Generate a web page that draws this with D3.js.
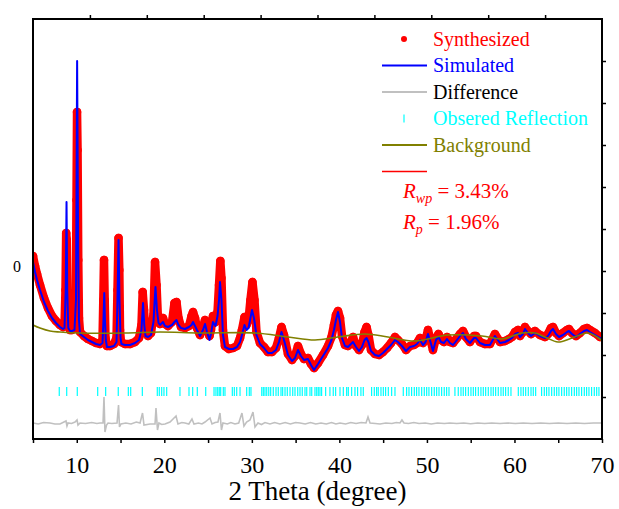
<!DOCTYPE html>
<html>
<head>
<meta charset="utf-8">
<script src="https://cdn.jsdelivr.net/npm/d3@7/dist/d3.min.js"></script>
<style>
  body { margin: 0; background: #fff; }
</style>
</head>
<body>
<svg id="chart" width="619" height="509"></svg>
<script>
const serif = "'Liberation Serif', 'Times New Roman', serif";

// 2 theta (deg), intensity (a.u.)
const observed = [
  [5.00,100],[5.23,0],[5.46,-80],[5.80,-190],[6.26,-320],[6.71,-420],[7.17,-500],[7.63,-550],
  [8.08,-590],[8.43,-610],[8.60,-590],[8.71,-240],[8.79,330],[8.86,260],[8.94,-340],[9.06,-600],
  [9.23,-640],[9.45,-640],[9.74,-620],[9.89,-340],[9.97,660],[10.03,1540],[10.09,1160],[10.17,60],
  [10.25,-520],[10.37,-660],[10.83,-700],[11.28,-730],[11.74,-750],[12.20,-770],[12.65,-780],
  [12.94,-740],[13.03,-340],[13.11,60],[13.19,-340],[13.28,-720],[13.45,-800],[13.80,-800],
  [14.25,-780],[14.54,-720],[14.65,-240],[14.77,280],[14.86,-40],[14.94,-640],[15.05,-760],
  [15.51,-780],[16.08,-780],[16.65,-760],[17.11,-720],[17.39,-590],[17.53,-260],[17.68,-440],
  [17.85,-670],[18.14,-700],[18.48,-670],[18.76,-490],[18.94,40],[19.11,-190],[19.28,-540],
  [19.51,-580],[19.85,-520],[20.08,-580],[20.42,-600],[20.88,-560],[21.16,-370],[21.39,-360],
  [21.62,-520],[21.91,-610],[22.36,-620],[22.82,-600],[23.11,-500],[23.28,-460],[23.51,-520],
  [23.73,-620],[24.08,-690],[24.42,-610],[24.65,-540],[24.88,-620],[25.16,-700],[25.33,-640],
  [25.56,-500],[25.85,-560],[26.08,-460],[26.25,-190],[26.40,50],[26.53,-120],[26.70,-640],
  [26.93,-800],[27.39,-830],[27.85,-820],[28.30,-800],[28.65,-720],[28.87,-640],[29.16,-510],
  [29.39,-590],[29.62,-540],[29.84,-340],[30.07,-160],[30.30,-340],[30.53,-660],[30.93,-770],
  [31.39,-810],[31.84,-860],[32.30,-860],[32.76,-820],[33.10,-720],[33.39,-610],[33.67,-690],
  [34.13,-880],[34.59,-940],[34.93,-900],[35.27,-800],[35.61,-880],[35.96,-930],[36.41,-920],
  [36.76,-980],[37.10,-1020],[37.56,-970],[38.13,-890],[38.70,-800],[39.10,-710],[39.38,-590],
  [39.61,-490],[39.84,-450],[40.07,-520],[40.30,-700],[40.64,-790],[40.98,-800],[41.21,-780],
  [41.56,-710],[41.90,-800],[42.24,-840],[42.58,-790],[42.87,-660],[43.10,-610],[43.32,-690],
  [43.61,-840],[44.07,-880],[44.52,-890],[44.98,-860],[45.44,-820],[45.90,-770],[46.35,-710],
  [46.69,-740],[47.15,-780],[47.61,-840],[48.07,-800],[48.52,-790],[48.87,-770],[49.21,-720],
  [49.55,-770],[49.84,-740],[50.12,-640],[50.41,-740],[50.69,-840],[51.04,-720],[51.32,-680],
  [51.61,-740],[51.95,-760],[52.29,-710],[52.63,-760],[52.98,-770],[53.43,-720],[53.78,-680],
  [54.12,-650],[54.46,-710],[54.92,-760],[55.38,-700],[55.61,-700],[56.06,-760],[56.63,-780],
  [57.20,-780],[57.77,-680],[58.35,-760],[58.92,-750],[59.37,-730],[59.72,-710],[60.06,-660],
  [60.40,-640],[60.63,-700],[60.97,-660],[61.20,-610],[61.54,-650],[61.89,-680],[62.34,-650],
  [62.91,-690],[63.49,-710],[63.83,-680],[64.17,-620],[64.40,-610],[64.74,-670],[65.09,-700],
  [65.54,-670],[66.00,-640],[66.23,-630],[66.57,-670],[67.03,-700],[67.48,-670],[67.94,-630],
  [68.29,-620],[68.62,-640],[69.20,-670],[69.77,-710],[70.00,-710]
];

const calculated = [
  [5.00,40],[5.23,-60],[5.46,-140],[5.80,-240],[6.26,-360],[6.71,-450],[7.17,-520],[7.63,-570],
  [8.08,-610],[8.43,-630],[8.60,-620],[8.74,-240],[8.83,640],[8.91,-240],[9.03,-620],[9.23,-650],
  [9.45,-650],[9.74,-640],[9.91,-340],[10.04,2050],[10.16,160],[10.25,-540],[10.37,-680],
  [10.83,-710],[11.28,-740],[11.74,-760],[12.20,-780],[12.65,-790],[12.94,-770],[13.05,-540],
  [13.14,-270],[13.22,-540],[13.32,-740],[13.45,-810],[13.80,-810],[14.25,-800],[14.54,-760],
  [14.65,-340],[14.77,260],[14.88,-340],[15.00,-720],[15.11,-780],[15.51,-790],[16.08,-790],
  [16.65,-770],[17.11,-740],[17.39,-640],[17.57,-370],[17.71,-590],[17.85,-700],[18.14,-710],
  [18.48,-690],[18.76,-560],[18.99,-210],[19.16,-440],[19.34,-570],[19.51,-590],[19.85,-560],
  [20.08,-600],[20.42,-610],[20.88,-590],[21.16,-560],[21.39,-540],[21.62,-590],[21.91,-620],
  [22.36,-630],[22.82,-610],[23.11,-590],[23.28,-560],[23.51,-600],[23.73,-640],[24.08,-700],
  [24.42,-640],[24.65,-580],[24.88,-660],[25.16,-740],[25.33,-680],[25.56,-560],[25.85,-600],
  [26.08,-500],[26.25,-340],[26.36,-160],[26.53,-340],[26.70,-690],[26.93,-810],[27.39,-830],
  [27.85,-830],[28.30,-810],[28.65,-760],[28.87,-690],[29.16,-590],[29.39,-640],[29.62,-620],
  [29.84,-520],[30.02,-440],[30.24,-520],[30.53,-690],[30.93,-780],[31.39,-820],[31.84,-870],
  [32.30,-870],[32.76,-840],[33.10,-760],[33.39,-660],[33.67,-740],[34.13,-890],[34.59,-950],
  [34.93,-920],[35.27,-840],[35.61,-900],[35.96,-940],[36.41,-930],[36.76,-990],[37.10,-1040],
  [37.56,-980],[38.13,-900],[38.70,-820],[39.10,-740],[39.38,-640],[39.61,-540],[39.84,-460],
  [40.07,-560],[40.30,-720],[40.64,-800],[40.98,-810],[41.21,-790],[41.56,-760],[41.90,-810],
  [42.24,-850],[42.58,-810],[42.87,-740],[43.10,-720],[43.32,-760],[43.61,-850],[44.07,-890],
  [44.52,-900],[44.98,-870],[45.44,-830],[45.90,-790],[46.35,-740],[46.69,-760],[47.15,-800],
  [47.61,-850],[48.07,-810],[48.52,-800],[48.87,-780],[49.21,-740],[49.55,-790],[49.84,-760],
  [50.12,-680],[50.41,-760],[50.69,-850],[51.04,-740],[51.32,-710],[51.61,-760],[51.95,-770],
  [52.29,-730],[52.63,-770],[52.98,-790],[53.43,-740],[53.78,-700],[54.12,-670],[54.46,-730],
  [54.92,-770],[55.38,-720],[55.61,-720],[56.06,-770],[56.63,-790],[57.20,-790],[57.77,-700],
  [58.35,-770],[58.92,-760],[59.37,-740],[59.72,-720],[60.06,-680],[60.40,-670],[60.63,-710],
  [60.97,-680],[61.20,-630],[61.54,-670],[61.89,-700],[62.34,-670],[62.91,-700],[63.49,-720],
  [63.83,-700],[64.17,-650],[64.40,-630],[64.74,-680],[65.09,-710],[65.54,-690],[66.00,-660],
  [66.23,-650],[66.57,-680],[67.03,-710],[67.48,-680],[67.94,-650],[68.29,-640],[68.62,-660],
  [69.20,-690],[69.77,-720],[70.00,-730]
];

const background = [
  [5.00,-590],[5.80,-620],[6.94,-650],[8.08,-660],[10.37,-670],[15.51,-670],[19.51,-660],
  [24.08,-670],[30.36,-670],[34.13,-710],[37.21,-740],[39.84,-710],[42.92,-680],[45.55,-710],
  [48.64,-750],[52.41,-690],[56.29,-700],[58.57,-730],[60.86,-670],[62.34,-670],[63.49,-710],
  [64.97,-760],[66.57,-720],[68.40,-670],[69.77,-730],[70.00,-750]
];

const difference = [
  [5.00,-1570],[5.60,-1580],[6.20,-1565],[6.94,-1570],[7.50,-1580],[8.08,-1580],[8.77,-1550],
  [8.88,-1600],[9.00,-1570],[9.40,-1575],[9.80,-1560],[10.03,-1540],[10.14,-1590],[10.37,-1570],
  [11.00,-1575],[11.70,-1565],[12.30,-1575],[12.65,-1570],[13.00,-1570],[13.11,-1310],
  [13.22,-1660],[13.40,-1590],[13.57,-1570],[14.00,-1575],[14.60,-1570],[14.77,-1390],
  [14.88,-1610],[15.05,-1580],[15.60,-1570],[16.20,-1580],[16.80,-1560],[17.23,-1570],
  [17.51,-1470],[17.68,-1590],[18.37,-1580],[18.94,-1580],[19.05,-1420],[19.22,-1640],
  [19.39,-1570],[19.70,-1585],[20.08,-1580],[20.65,-1560],[21.34,-1500],[21.56,-1580],
  [22.00,-1565],[22.36,-1570],[22.80,-1580],[23.16,-1530],[23.39,-1580],[23.90,-1570],
  [24.30,-1580],[24.65,-1560],[25.22,-1520],[25.45,-1580],[25.80,-1565],[26.13,-1560],
  [26.36,-1470],[26.53,-1640],[26.70,-1570],[27.20,-1580],[27.60,-1565],[28.07,-1580],
  [28.50,-1570],[28.87,-1470],[29.10,-1600],[29.40,-1560],[29.79,-1540],[30.13,-1460],
  [30.36,-1610],[30.70,-1570],[31.10,-1585],[31.50,-1565],[32.07,-1580],[32.60,-1565],
  [33.20,-1580],[33.80,-1565],[34.40,-1580],[35.00,-1565],[35.50,-1570],[36.10,-1580],
  [36.70,-1565],[37.30,-1580],[37.90,-1570],[38.50,-1580],[39.10,-1565],[39.60,-1580],
  [40.07,-1570],[40.70,-1580],[41.30,-1565],[41.90,-1575],[42.50,-1565],[43.04,-1570],
  [43.27,-1510],[43.50,-1570],[44.10,-1575],[44.64,-1580],[45.30,-1570],[46.00,-1575],
  [46.50,-1565],[46.92,-1570],[47.15,-1540],[47.38,-1570],[47.90,-1575],[48.50,-1565],
  [49.10,-1575],[49.80,-1570],[50.50,-1580],[51.20,-1570],[52.00,-1575],[52.63,-1570],
  [53.40,-1575],[54.20,-1570],[55.00,-1578],[55.80,-1570],[56.60,-1575],[57.40,-1570],
  [58.35,-1575],[59.20,-1570],[60.10,-1575],[61.00,-1570],[62.00,-1575],[63.00,-1570],
  [64.00,-1575],[65.00,-1570],[66.00,-1575],[67.00,-1570],[68.00,-1575],[69.00,-1570],
  [70.00,-1570]
];

const reflections = [
  8.00,8.85,10.06,12.39,13.30,14.74,15.89,16.16,17.49,19.20,19.43,19.70,19.96,20.27,21.79,
  22.82,23.24,23.77,24.73,25.68,25.90,26.10,26.28,26.44,26.74,26.93,27.77,28.00,28.27,28.65,
  29.41,29.71,29.90,31.13,31.31,31.50,31.70,31.93,32.15,32.45,32.76,33.02,33.33,33.52,33.79,
  34.05,34.36,34.67,34.93,35.24,35.50,35.76,36.07,36.27,36.64,36.84,37.21,37.41,37.59,37.78,
  37.97,38.43,38.92,39.30,39.57,40.07,40.45,40.83,41.02,41.40,41.78,42.08,42.46,42.73,
  43.68,43.99,44.25,44.44,44.75,45.02,45.28,45.59,45.97,46.35,
  47.30,47.68,47.95,48.25,48.56,48.82,49.09,49.40,49.70,49.97,50.23,50.54,50.84,51.11,51.38,
  51.68,51.98,52.25,52.52,
  53.20,53.58,53.89,54.15,54.42,54.73,55.03,55.30,55.56,55.87,56.17,56.44,56.71,57.01,57.32,
  57.58,57.85,58.15,58.46,58.72,58.99,59.29,59.60,
  60.44,60.74,61.01,61.28,61.58,61.89,62.15,62.42,
  63.10,63.41,63.67,63.94,64.25,64.55,64.82,65.08,65.39,65.69,65.96,66.23,66.53,66.84,67.10,
  67.37,67.67,67.98,68.24,68.51,68.81,69.12,69.39,69.65
];
// reflection marks sit in a band below the pattern
const reflectionBand = [-1210, -1300];

const xTickValues = [5, 10, 15, 20, 25, 30, 35, 40, 45, 50, 55, 60, 65, 70];
const xTickLabels = [10, 20, 30, 40, 50, 60, 70];
const yTickValues = [0];

const margin = { top: 19, right: 17, bottom: 70, left: 33 };
const width = 619 - margin.left - margin.right;
const height = 509 - margin.top - margin.bottom;

const svg = d3.select("#chart");
const g = svg.append("g").attr("transform", `translate(${margin.left},${margin.top})`);

const x = d3.scaleLinear().domain([5, 70]).range([0, width]);
const y = d3.scaleLinear().domain([-1730, 2470]).range([height, 0]);

// top and right axes are split into ten equal divisions
const xTop = d3.scaleLinear().domain([0, 10]).range([0, width]);
const yRight = d3.scaleLinear().domain([0, 10]).range([height, 0]);

const line = d3.line().x(d => x(d[0])).y(d => y(d[1]));

g.append("clipPath").attr("id", "clip")
  .append("rect").attr("width", width).attr("height", height);

const plot = g.append("g").attr("clip-path", "url(#clip)");

// observed points (drawn as a dense dot band)
plot.append("path")
  .datum(observed)
  .attr("d", line)
  .attr("fill", "none")
  .attr("stroke", "#ff0000")
  .attr("stroke-width", 8.5)
  .attr("stroke-linejoin", "round")
  .attr("stroke-linecap", "round");

plot.selectAll(".obs")
  .data(observed)
  .join("circle")
  .attr("class", "obs")
  .attr("cx", d => x(d[0]))
  .attr("cy", d => y(d[1]))
  .attr("r", 4.3)
  .attr("fill", "#ff0000");

// calculated
plot.append("path")
  .datum(calculated)
  .attr("d", line)
  .attr("fill", "none")
  .attr("stroke", "#0000ff")
  .attr("stroke-width", 2)
  .attr("stroke-linejoin", "round");

// background
plot.append("path")
  .datum(background)
  .attr("d", d3.line().x(d => x(d[0])).y(d => y(d[1])).curve(d3.curveCatmullRom))
  .attr("fill", "none")
  .attr("stroke", "#808000")
  .attr("stroke-width", 1.6);

// difference
plot.append("path")
  .datum(difference)
  .attr("d", line)
  .attr("fill", "none")
  .attr("stroke", "#c0c0c0")
  .attr("stroke-width", 1.6);

// reflection marks
plot.selectAll(".refl")
  .data(reflections)
  .join("line")
  .attr("class", "refl")
  .attr("x1", d => x(d)).attr("x2", d => x(d))
  .attr("y1", y(reflectionBand[0])).attr("y2", y(reflectionBand[1]))
  .attr("stroke", "#00ffff")
  .attr("stroke-width", 1.2);

// axes
const xAxis = d3.axisBottom(x)
  .tickValues(xTickValues)
  .tickSize(4)
  .tickPadding(13)
  .tickFormat(d => xTickLabels.includes(d) ? d : "");

g.append("g")
  .attr("transform", `translate(0,${height})`)
  .call(xAxis)
  .attr("font-family", serif)
  .attr("font-size", 24)
  .call(a => a.select(".domain").remove())
  .call(a => a.selectAll("line").attr("stroke-width", 1.5))
  .call(a => a.selectAll("text").attr("fill", "#000"));

g.append("g")
  .call(d3.axisTop(xTop).tickValues(d3.range(1, 10)).tickSize(4).tickFormat(""))
  .call(a => a.select(".domain").remove())
  .call(a => a.selectAll("line").attr("stroke-width", 1.5));

g.append("g")
  .attr("transform", `translate(${width},0)`)
  .call(d3.axisRight(yRight).tickValues(d3.range(1, 10)).tickSize(4).tickFormat(""))
  .call(a => a.select(".domain").remove())
  .call(a => a.selectAll("line").attr("stroke-width", 1.5));

g.append("g")
  .call(d3.axisLeft(y).tickValues(yTickValues).tickSize(0).tickPadding(12))
  .attr("font-family", serif)
  .attr("font-size", 16)
  .call(a => a.select(".domain").remove())
  .call(a => a.selectAll("text").attr("fill", "#000"));

// frame
g.append("rect")
  .attr("width", width)
  .attr("height", height)
  .attr("fill", "none")
  .attr("stroke", "#000")
  .attr("stroke-width", 2);

svg.append("text")
  .attr("x", margin.left + width / 2)
  .attr("y", 500)
  .attr("text-anchor", "middle")
  .attr("font-family", serif)
  .attr("font-size", 27)
  .text("2 Theta (degree)");

// legend
const legendItems = [
  { label: "Synthesized", color: "#ff0000", text: "#ff0000", kind: "dot" },
  { label: "Simulated", color: "#0000ff", text: "#0000ff", kind: "line" },
  { label: "Difference", color: "#c0c0c0", text: "#000000", kind: "line" },
  { label: "Obsered Reflection", color: "#00ffff", text: "#00ffff", kind: "tick" },
  { label: "Background", color: "#808000", text: "#808000", kind: "line" },
  { label: "", color: "#ff0000", text: "#ff0000", kind: "line" }
];

const legend = svg.append("g")
  .attr("transform", "translate(382,39)")
  .attr("font-family", serif);
const row = legend.selectAll("g")
  .data(legendItems)
  .join("g")
  .attr("transform", (d, i) => `translate(0,${i * 26.5})`);

row.filter(d => d.kind === "line").append("line")
  .attr("x1", 0).attr("x2", 45).attr("y1", 0).attr("y2", 0)
  .attr("stroke", d => d.color).attr("stroke-width", d => d.color === "#ff0000" ? 1.3 : 2);
row.filter(d => d.kind === "dot").append("circle")
  .attr("cx", 22).attr("r", 3).attr("fill", d => d.color);
row.filter(d => d.kind === "tick").append("line")
  .attr("x1", 22).attr("x2", 22).attr("y1", -4).attr("y2", 4)
  .attr("stroke", d => d.color).attr("stroke-width", 1.2);
row.append("text")
  .attr("x", 51).attr("y", 6.5)
  .attr("font-size", 20)
  .attr("fill", d => d.text)
  .text(d => d.label);

const rFactors = [
  { sub: "wp", value: "3.43%" },
  { sub: "p", value: "1.96%" }
];
svg.selectAll(".rf")
  .data(rFactors)
  .join("text")
  .attr("class", "rf")
  .attr("x", 403)
  .attr("y", (d, i) => 198 + i * 31)
  .attr("font-family", serif)
  .attr("font-size", 21)
  .attr("fill", "#ff0000")
  .each(function(d) {
    const t = d3.select(this);
    t.append("tspan").attr("font-style", "italic").text("R");
    t.append("tspan").attr("font-style", "italic").attr("font-size", 14).attr("dy", 5).text(d.sub);
    t.append("tspan").attr("dy", -5).text(" = " + d.value);
  });
</script>
</body>
</html>
